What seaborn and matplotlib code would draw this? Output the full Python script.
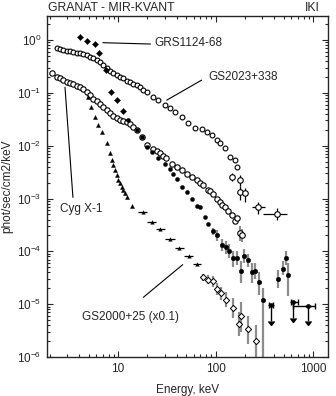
import numpy as np
import pandas as pd
import matplotlib
matplotlib.use("Agg")
import matplotlib.pyplot as plt
import seaborn as sns
from matplotlib.ticker import LogLocator, NullFormatter

# ---- GS2023+338 (open circles, upper spectrum)
gs2023_e = [2.35, 2.54, 2.75, 3.0, 3.2, 3.45, 3.8, 4.1, 4.4, 4.8, 5.2, 5.5, 6.1, 6.5, 7.0,
            7.7, 8.3, 8.9, 9.8, 10.5, 11.2, 12.3, 13.3, 14.3, 15.7, 16.8, 18.2, 19.7, 22.8,
            25.7, 30.3, 34, 38.4, 45, 52, 61.6, 72, 82, 92, 104, 111, 125, 141, 158, 166]
gs2023_f = [0.70, 0.67, 0.65, 0.63, 0.62, 0.59, 0.57, 0.56, 0.54, 0.52, 0.48, 0.46, 0.42, 0.38, 0.33,
            0.30, 0.26, 0.24, 0.22, 0.20, 0.19, 0.17, 0.16, 0.15, 0.14, 0.13, 0.115, 0.104, 0.083,
            0.073, 0.058, 0.051, 0.043, 0.035, 0.027, 0.022, 0.021, 0.018, 0.016, 0.0127, 0.011,
            0.0090, 0.0060, 0.0053, 0.0039]
gs2023_err_e = [147, 178, 178, 200, 273, 427]
gs2023_err_f = [2.5e-3, 2.2e-3, 1.3e-3, 1.25e-3, 6.8e-4, 5.2e-4]
gs2023_err_lo = [2.1e-3, 1.7e-3, 0.95e-3, 0.85e-3, 5.2e-4, 3.9e-4]
gs2023_err_hi = [3.0e-3, 2.8e-3, 1.7e-3, 1.6e-3, 8.6e-4, 6.6e-4]
gs2023_err_elo = [147, 178, 178, 200, 236, 308]
gs2023_err_ehi = [147, 178, 178, 200, 322, 543]

# ---- GRS1124-68 (filled points)
grs_e = [4.07, 4.8, 5.8, 6.4, 7.5, 8.4, 9.8, 11.3, 12.8, 15.5, 17.5, 19.7, 22.5, 26, 30,
         34, 37, 40.5, 45, 50.7, 57, 64, 70, 78, 84]
grs_f = [1.15, 0.97, 0.83, 0.57, 0.27, 0.105, 0.073, 0.045, 0.030, 0.020, 0.0144, 0.0094,
         0.0075, 0.0058, 0.0046, 0.0036, 0.0029, 0.0023, 0.00164, 0.0013, 0.0010, 7.1e-4,
         6.8e-4, 4.5e-4, 3.3e-4]
grs_err_e = [94, 104, 117, 128, 138, 152, 167, 183, 197, 215, 235, 254, 279, 308,
             440, 490, 530, 560]
grs_err_f = [2.4e-4, 2.0e-4, 1.3e-4, 1.2e-4, 1.0e-4, 7.4e-5, 7.4e-5, 4.3e-5, 8.3e-5, 6.9e-5,
             4.0e-5, 4.3e-5, 2.6e-5, 1.2e-5, 3.0e-5, 4.7e-5, 7.4e-5, 3.5e-5]
grs_err_lo = [2.0e-4, 1.6e-4, 1.0e-4, 0.9e-4, 0.75e-4, 5.0e-5, 5.5e-5, 2.5e-5, 6.0e-5, 5.0e-5,
              2.5e-5, 3.0e-5, 1.5e-5, 8e-7, 2.0e-5, 3.5e-5, 5.5e-5, 1.4e-5]
grs_err_hi = [2.8e-4, 2.5e-4, 1.7e-4, 1.6e-4, 1.35e-4, 1.0e-4, 1.0e-4, 6.5e-5, 1.1e-4, 9.0e-5,
              6.0e-5, 6.0e-5, 4.0e-5, 2.0e-5, 4.5e-5, 6.5e-5, 1.0e-4, 6.0e-5]
grs_ul_e = [370, 630, 890]
grs_ul_f = [9.6e-6, 1.1e-5, 9.4e-6]
grs_ul_elo = [350, 600, 628]
grs_ul_ehi = [390, 700, 1050]

# ---- Cyg X-1 (open circles, lower spectrum)
cyg_e = [2.09, 2.35, 2.54, 2.74, 2.98, 3.22, 3.49, 3.77, 4.07, 4.4, 4.77, 5.16, 5.58, 6.04,
         6.53, 7.07, 7.65, 8.28, 8.95, 9.7, 10.5, 11.3, 12.3, 13.3, 14.4, 15.8, 17.5, 20,
         22.8, 25, 27, 29, 31, 35.5, 40, 45, 50.7, 57, 64, 69, 75, 84, 88, 95, 103, 111,
         117, 125, 135, 147, 158, 165]
cyg_f = [0.233, 0.20, 0.187, 0.174, 0.162, 0.151, 0.144, 0.136, 0.127, 0.116, 0.104, 0.090,
         0.078, 0.071, 0.061, 0.054, 0.047, 0.041, 0.036, 0.034, 0.031, 0.029, 0.028, 0.026,
         0.0226, 0.0196, 0.0146, 0.0102, 0.0086, 0.0078, 0.0072, 0.0064, 0.0058, 0.0046,
         0.0040, 0.0034, 0.0029, 0.0025, 0.0022, 0.0020, 0.00177, 0.00142, 0.0014, 0.00122,
         0.0010, 0.00086, 7.4e-4, 6.9e-4, 5.9e-4, 4.8e-4, 3.8e-4, 4.2e-4]
cyg_err_e = [178, 185]
cyg_err_f = [2.2e-4, 2.0e-4]
cyg_err_lo = [1.6e-4, 1.5e-4]
cyg_err_hi = [3.0e-4, 2.7e-4]

# ---- GS2000+25 (x0.1)
gs2000_tri_e = [4.92, 5.28, 5.81, 6.24, 6.86, 7.71, 8.28, 8.6, 8.83, 9.31, 9.7, 10.1, 10.5,
                10.9, 11.3, 11.8, 12.3, 13.8]
gs2000_tri_f = [0.083, 0.054, 0.0346, 0.0244, 0.018, 0.0111, 0.0072, 0.0054, 0.00425, 0.0034,
                0.00274, 0.0022, 0.00194, 0.00164, 0.00142, 0.00125, 0.00106, 0.00071]
gs2000_bin_e = [17.9, 22.2, 27, 34, 42, 53, 64]
gs2000_bin_f = [5.5e-4, 3.6e-4, 2.6e-4, 1.7e-4, 1.15e-4, 8.0e-5, 5.8e-5]
gs2000_bin_edges = [16, 20, 24.5, 30, 38, 47, 59, 71]
gs2000_hx_e = [74, 84, 94, 104, 114, 128, 152, 174, 183, 215, 260]
gs2000_hx_f = [3.2e-5, 2.9e-5, 2.7e-5, 1.9e-5, 1.6e-5, 1.2e-5, 8.6e-6, 4.3e-6, 5.9e-6,
               3.4e-6, 2.0e-6]
gs2000_hx_lo = [2.7e-5, 2.4e-5, 2.1e-5, 1.5e-5, 1.2e-5, 0.9e-5, 5.5e-6, 2.5e-6, 3.0e-6,
                1.8e-6, 1.0e-6]
gs2000_hx_hi = [3.8e-5, 3.5e-5, 3.4e-5, 2.5e-5, 2.1e-5, 1.7e-5, 1.3e-5, 7.0e-6, 1.1e-5,
                6.0e-6, 4.0e-6]

# axis ticks
x_ticks = [10, 100, 1000]
x_ticklabels = ["10", "100", "1000"]
y_exponents = [-6, -5, -4, -3, -2, -1, 0]

sns.set_style("ticks")
plt.rcParams['font.family'] = ['Liberation Sans', 'DejaVu Sans']
plt.rcParams['mathtext.default'] = 'regular'

fig = plt.figure(figsize=(3.36, 3.96), dpi=100)
ax = fig.add_axes([47 / 336, 1 - 357 / 396, 281 / 336, 341 / 396])
ax.set_xscale("log")
ax.set_yscale("log")

errgray = "0.55"


def yerr(f, lo, hi):
    f = np.asarray(f)
    return [f - np.asarray(lo), np.asarray(hi) - f]


# error bars first so the markers sit on top
ax.errorbar(grs_err_e, grs_err_f, yerr=yerr(grs_err_f, grs_err_lo, grs_err_hi),
            fmt="none", ecolor=errgray, elinewidth=1.6)
ax.errorbar(gs2000_hx_e, gs2000_hx_f, yerr=yerr(gs2000_hx_f, gs2000_hx_lo, gs2000_hx_hi),
            fmt="none", ecolor=errgray, elinewidth=1.6)
ax.errorbar(cyg_err_e, cyg_err_f, yerr=yerr(cyg_err_f, cyg_err_lo, cyg_err_hi),
            fmt="none", ecolor=errgray, elinewidth=1.4)
ax.errorbar(gs2023_err_e, gs2023_err_f,
            yerr=yerr(gs2023_err_f, gs2023_err_lo, gs2023_err_hi),
            xerr=yerr(gs2023_err_e, gs2023_err_elo, gs2023_err_ehi),
            fmt="none", ecolor="black", elinewidth=0.9)
edges = np.asarray(gs2000_bin_edges)
ax.errorbar(gs2000_bin_e, gs2000_bin_f,
            xerr=[np.asarray(gs2000_bin_e) - edges[:-1], edges[1:] - np.asarray(gs2000_bin_e)],
            fmt="none", ecolor="black", elinewidth=0.9)
ax.errorbar(grs_ul_e, grs_ul_f,
            xerr=yerr(grs_ul_e, grs_ul_elo, grs_ul_ehi),
            yerr=[np.asarray(grs_ul_f) * 0.5, np.zeros(len(grs_ul_f))],
            uplims=True, fmt="none", color="black", ecolor="black",
            elinewidth=1.0, capsize=2, markersize=3)

# markers
open_kw = dict(facecolor="white", edgecolor="black", linewidth=0.8, ax=ax, zorder=3)
sns.scatterplot(x=gs2023_e, y=gs2023_f, marker="o", s=12, **open_kw)
sns.scatterplot(x=gs2023_err_e, y=gs2023_err_f, marker="o", s=16, **open_kw)
sns.scatterplot(x=cyg_e, y=cyg_f, marker="o", s=15, **open_kw)
sns.scatterplot(x=cyg_err_e, y=cyg_err_f, marker="o", s=16, **open_kw)

sns.scatterplot(x=grs_e[:8], y=grs_f[:8], marker="D", s=10, color="black",
                edgecolor="black", ax=ax, zorder=3)
sns.scatterplot(x=grs_e[8:], y=grs_f[8:], marker="o", s=9, color="black",
                edgecolor="black", ax=ax, zorder=3)
sns.scatterplot(x=grs_err_e, y=grs_err_f, marker="o", s=11, color="black",
                edgecolor="black", ax=ax, zorder=3)
sns.scatterplot(x=grs_ul_e, y=grs_ul_f, marker="o", s=10, color="black",
                edgecolor="black", ax=ax, zorder=3)

sns.scatterplot(x=gs2000_tri_e, y=gs2000_tri_f, marker="^", s=9, color="black",
                edgecolor="black", ax=ax, zorder=3)
sns.scatterplot(x=gs2000_bin_e, y=gs2000_bin_f, marker="^", s=7, color="black",
                edgecolor="black", ax=ax, zorder=3)
sns.scatterplot(x=gs2000_hx_e, y=gs2000_hx_f, marker="D", s=10, facecolor="white",
                edgecolor="black", linewidth=0.7, ax=ax, zorder=3)

ax.set_xlim(1.87, 1425)
ax.set_ylim(1e-6, 2.85)

# ticks
ax.set_xticks(x_ticks)
ax.set_xticklabels(x_ticklabels)
ax.xaxis.set_minor_locator(LogLocator(base=10, subs=np.arange(2, 10), numticks=20))
ax.xaxis.set_minor_formatter(NullFormatter())
ax.set_yticks([10.0 ** k for k in y_exponents])
ax.set_yticklabels([f"$10^{{{k}}}$" for k in y_exponents])
ax.yaxis.set_minor_locator(LogLocator(base=10, subs=np.arange(2, 10), numticks=20))
ax.yaxis.set_minor_formatter(NullFormatter())
ax.tick_params(which="both", direction="in", top=True, right=True, width=0.8,
               labelsize=8.5, pad=4)
ax.tick_params(which="major", length=4)
ax.tick_params(which="minor", length=2)
for s in ax.spines.values():
    s.set_linewidth(1.0)

ax.set_xlabel("Energy, keV", fontsize=8.5, labelpad=7)
ax.set_ylabel("phot/sec/cm2/keV", fontsize=8.5, labelpad=3)

# source labels
lab = dict(fontsize=8.5, va="center")
ax.plot([7.0, 21.5], [0.89, 0.84], color="black", lw=0.8)
ax.text(23.5, 0.87, "GRS1124-68", **lab)
ax.plot([31.6, 72], [0.0727, 0.174], color="black", lw=0.8)
ax.text(84, 0.20, "GS2023+338", **lab)
ax.plot([2.86, 3.45], [0.128, 1.05e-3], color="black", lw=0.8)
ax.text(2.54, 6.4e-4, "Cyg X-1", **lab)
ax.plot([18.2, 46.1], [1.35e-5, 5.6e-5], color="black", lw=0.8)
ax.text(4.25, 5.6e-6, "GS2000+25 (x0.1)", **lab)

fig.text(48 / 336, 1 - 8 / 396, "GRANAT - MIR-KVANT", fontsize=8.8, va="center", ha="left")
fig.text(320 / 336, 1 - 8 / 396, "IKI", fontsize=8.8, va="center", ha="right")

fig.savefig("out.png", dpi=100)
